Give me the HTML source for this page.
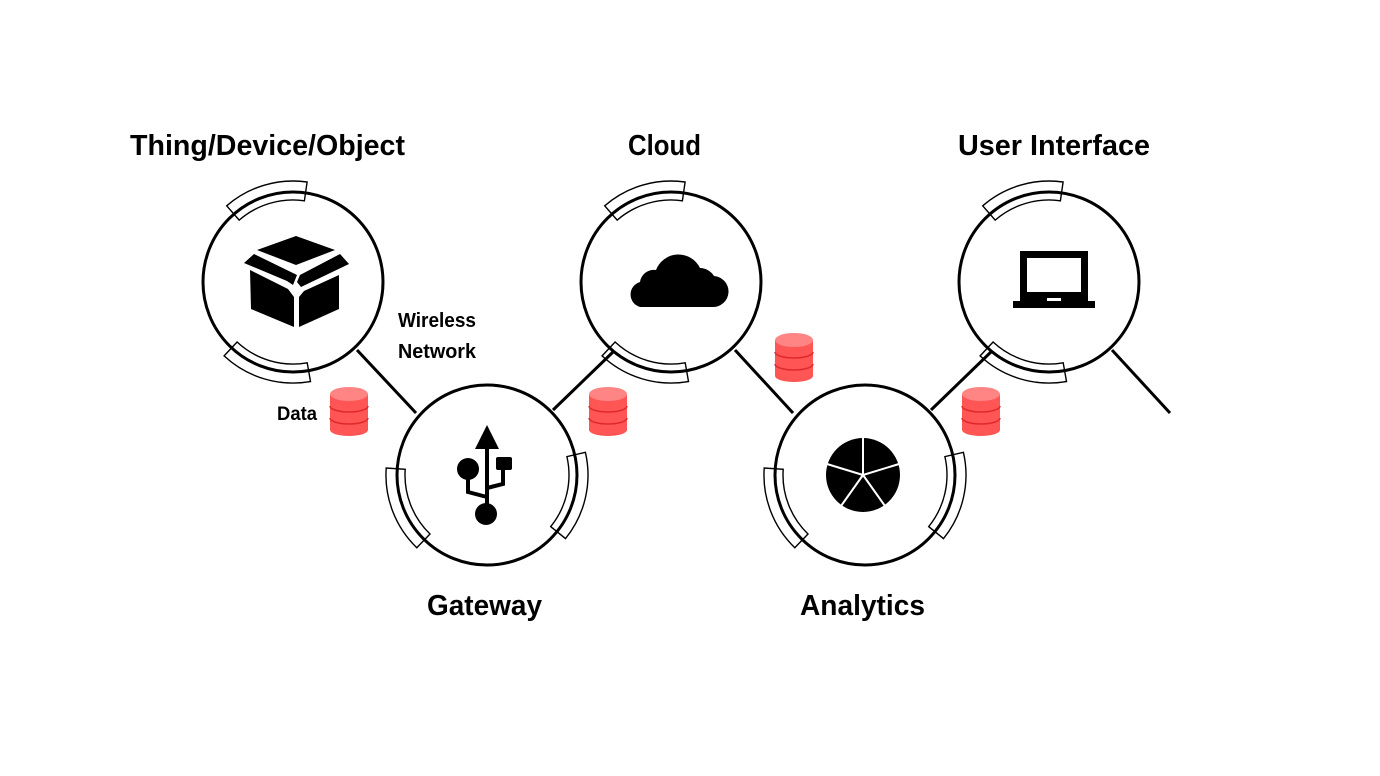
<!DOCTYPE html>
<html><head><meta charset="utf-8"><style>
html,body{margin:0;padding:0;background:#fff;}
svg{display:block;}
text{font-family:"Liberation Sans",sans-serif;font-weight:bold;fill:#000;}
</style></head><body>
<svg width="1380" height="776" viewBox="0 0 1380 776" xmlns="http://www.w3.org/2000/svg">
<defs>
  <g id="db">
    <path d="M0,8 L0,44 A19,6 0 0 0 38,44 L38,8 Z" fill="#ff5555"/>
    <ellipse cx="19" cy="8" rx="19" ry="7" fill="#ff8585"/>
    <path d="M0,20 A19,6 0 0 0 38,20" fill="none" stroke="#e02a2a" stroke-width="1.5"/>
    <path d="M0,32 A19,6 0 0 0 38,32" fill="none" stroke="#e02a2a" stroke-width="1.5"/>
  </g>
</defs>

<g stroke="#000" stroke-width="3" fill="none">
  <line x1="357" y1="350" x2="416" y2="413"/>
  <line x1="553" y1="410" x2="613" y2="352"/>
  <line x1="735" y1="350" x2="793" y2="413"/>
  <line x1="931" y1="410" x2="993" y2="350"/>
  <line x1="1112" y1="350" x2="1170" y2="413"/>
</g>

<g stroke="#000" stroke-width="3" fill="#fff">
  <circle cx="293" cy="282" r="90"/>
  <circle cx="487" cy="475" r="90"/>
  <circle cx="671" cy="282" r="90"/>
  <circle cx="865" cy="475" r="90"/>
  <circle cx="1049" cy="282" r="90"/>
</g>

<use href="#db" x="330" y="386"/>
<use href="#db" x="589" y="386"/>
<use href="#db" x="775" y="332"/>
<use href="#db" x="962" y="386"/>

<g fill="#000">
  <polygon points="296,236 335,250 296,265 257,250"/>
  <polygon points="244,263 254,254 297,275 293,285 287,281"/>
  <polygon points="300,275 340,254 349,264 301,287 297,282"/>
  <polygon points="250,270 288,289 294,297 294,327 251,309"/>
  <polygon points="299,297 304,291 339,275 339,309 299,327"/>
</g>

<g fill="#000" stroke="#000">
  <polygon points="487,425 475,449 499,449" stroke="none"/>
  <line x1="487" y1="448" x2="487" y2="508" stroke-width="4"/>
  <circle cx="468" cy="469" r="11" stroke="none"/>
  <rect x="496" y="457" width="16" height="13" rx="2" stroke="none"/>
  <polyline points="468,475 468,492 487,497" fill="none" stroke-width="4"/>
  <polyline points="503,468 503,484 487,488" fill="none" stroke-width="4"/>
  <circle cx="486" cy="514" r="11" stroke="none"/>
</g>

<path d="M640,307 L712,307 A15,15 0 0 0 714,276 A17,17 0 0 0 700,268 A24,24 0 0 0 656,270 A14,14 0 0 0 640,282 A13,13 0 0 0 640,307 Z" fill="#000"/>

<g>
  <circle cx="863" cy="475" r="37" fill="#000"/>
  <g stroke="#fff" stroke-width="2">
    <line x1="863" y1="475" x2="863" y2="437"/>
    <line x1="863" y1="475" x2="899" y2="464"/>
    <line x1="863" y1="475" x2="885" y2="506"/>
    <line x1="863" y1="475" x2="841" y2="506"/>
    <line x1="863" y1="475" x2="827" y2="464"/>
  </g>
</g>

<g>
  <rect x="1020" y="251" width="68" height="50" fill="#000"/>
  <rect x="1027" y="258" width="54" height="34" fill="#fff"/>
  <rect x="1013" y="301" width="82" height="7" fill="#000"/>
  <rect x="1047" y="298" width="14" height="3" fill="#fff"/>
</g>

<text x="130" y="155" font-size="29" textLength="275" lengthAdjust="spacingAndGlyphs">Thing/Device/Object</text>
<text x="628" y="155" font-size="29" textLength="73" lengthAdjust="spacingAndGlyphs">Cloud</text>
<text x="958" y="155" font-size="29" textLength="192" lengthAdjust="spacingAndGlyphs">User Interface</text>
<text x="427" y="615" font-size="29" textLength="115" lengthAdjust="spacingAndGlyphs">Gateway</text>
<text x="800" y="615" font-size="29" textLength="125" lengthAdjust="spacingAndGlyphs">Analytics</text>
<text x="398" y="327" font-size="20" textLength="78" lengthAdjust="spacingAndGlyphs">Wireless</text>
<text x="398" y="358" font-size="20" textLength="78" lengthAdjust="spacingAndGlyphs">Network</text>
<text x="277" y="420" font-size="19" textLength="40" lengthAdjust="spacingAndGlyphs">Data</text>
</svg>
<script>
(function(){
  var NS="http://www.w3.org/2000/svg";
  var svg=document.querySelector("svg");
  function sector(cx,cy,a1,a2,r1,r2){
    function p(a,r){var t=a*Math.PI/180;return (cx+r*Math.cos(t)).toFixed(1)+","+(cy+r*Math.sin(t)).toFixed(1);}
    var large=(a2-a1)>180?1:0;
    return "M"+p(a1,r2)+" A"+r2+","+r2+" 0 "+large+" 1 "+p(a2,r2)+" L"+p(a2,r1)+" A"+r1+","+r1+" 0 "+large+" 0 "+p(a1,r1)+" Z";
  }
  var list=[];
  [[293,282],[671,282],[1049,282]].forEach(function(c){
    list.push([c[0],c[1],-131,-82]);
    list.push([c[0],c[1],80,133]);
  });
  [[487,475],[865,475]].forEach(function(c){
    list.push([c[0],c[1],134,184]);
    list.push([c[0],c[1],-13,39]);
  });
  list.forEach(function(b){
    var path=document.createElementNS(NS,"path");
    path.setAttribute("d",sector(b[0],b[1],b[2],b[3],82,101));
    path.setAttribute("fill","none");
    path.setAttribute("stroke","#000");
    path.setAttribute("stroke-width","1.4");
    svg.appendChild(path);
  });
})();
</script>
</body></html>
